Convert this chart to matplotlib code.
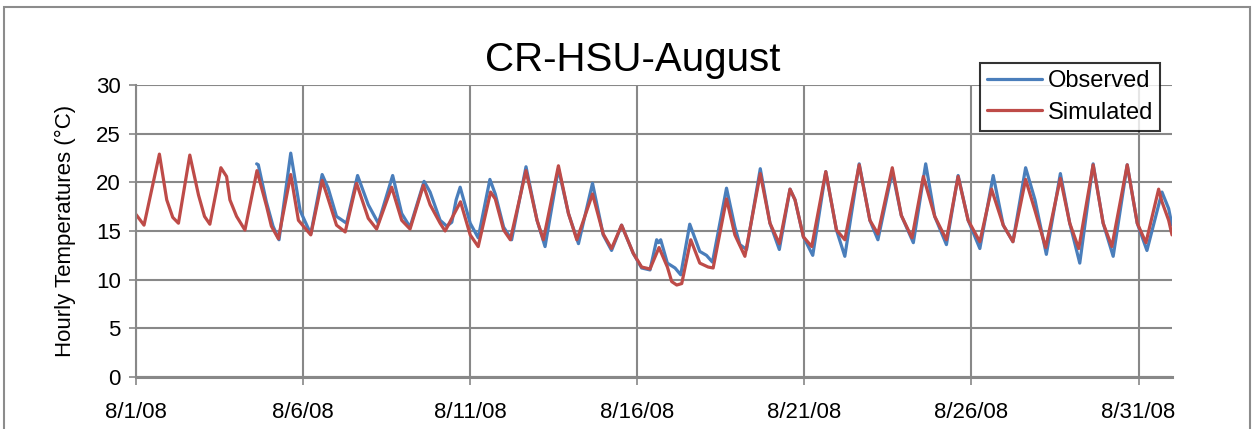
import datetime as dt
import matplotlib
matplotlib.use("Agg")
import matplotlib.pyplot as plt
from matplotlib.patches import Rectangle

plt.rcParams['font.family'] = ['Liberation Sans', 'DejaVu Sans']

start_date = dt.datetime(2008, 8, 1)

# Observed (blue): day offset from 8/1/08 00:00, temperature (°C)
obs_days = [3.61, 3.66, 3.90, 4.10, 4.28, 4.63, 4.91, 5.23, 5.57, 5.75, 6.0, 6.30, 6.63, 6.95, 7.25,
            7.68, 7.95, 8.2, 8.62, 8.8, 9.1, 9.3, 9.45, 9.58, 9.7, 10.0, 10.24, 10.59, 10.75, 11.0,
            11.24, 11.67, 12.0, 12.24, 12.64, 12.94, 13.24, 13.66, 13.98, 14.23, 14.53, 14.88, 15.13,
            15.38, 15.58, 15.64, 15.7, 15.9, 16.13, 16.3, 16.57, 16.87, 17.07, 17.25, 17.67, 17.92,
            18.07, 18.27, 18.68, 18.97, 19.25, 19.57, 19.72, 19.97, 20.25, 20.64, 20.96, 21.21, 21.64,
            21.96, 22.2, 22.63, 22.9, 23.26, 23.63, 23.9, 24.25, 24.6, 24.9, 25.25, 25.65, 25.95,
            26.24, 26.62, 26.9, 27.24, 27.66, 27.94, 28.24, 28.64, 28.94, 29.24, 29.66, 29.96, 30.25,
            30.7, 30.9, 31.0]
obs_vals = [21.9, 21.8, 18.0, 15.5, 14.1, 23.0, 17.1, 14.7, 20.8, 19.4, 16.5, 15.8, 20.7, 17.7, 15.8,
            20.7, 16.8, 15.4, 20.1, 19.0, 16.1, 15.5, 15.9, 18.2, 19.5, 15.8, 14.3, 20.3, 18.8, 15.4,
            14.1, 21.6, 16.1, 13.4, 21.4, 16.8, 13.7, 19.9, 14.6, 13.0, 15.6, 12.7, 11.2,
            11.0, 14.1, 13.8, 14.1, 11.7, 11.2, 10.5, 15.7, 12.9, 12.5, 11.8, 19.4, 15.4,
            13.6, 13.1, 21.4, 15.8, 13.1, 19.3, 18.2, 14.4, 12.5, 21.1, 15.1, 12.4, 21.9,
            16.1, 14.1, 21.1, 16.6, 13.8, 21.9, 16.5, 13.6, 20.7, 16.1, 13.2, 20.7, 15.6,
            13.9, 21.5, 18.2, 12.6, 20.9, 15.8, 11.7, 21.9, 15.8, 12.4, 21.8, 15.8, 13.0,
            19.0, 17.3, 15.6]

# Simulated (red)
sim_days = [0.00, 0.24, 0.70, 0.92, 1.10, 1.27, 1.61, 1.87, 2.05, 2.21, 2.54, 2.71, 2.81, 3.01, 3.26,
            3.62, 3.91, 4.05, 4.26, 4.63, 4.86, 5.23, 5.57, 5.75, 6.0, 6.26, 6.60, 6.95, 7.2, 7.65,
            7.95, 8.2, 8.6, 8.8, 9.1, 9.25, 9.71, 10.0, 10.24, 10.61, 10.75, 11.0, 11.2, 11.67, 12.0,
            12.19, 12.64, 12.94, 13.19, 13.66, 13.98, 14.23, 14.53, 14.88, 15.13, 15.38, 15.65, 15.9,
            16.03, 16.18, 16.33, 16.6, 16.87, 17.12, 17.27, 17.67, 17.92, 18.22, 18.68, 18.97, 19.25,
            19.57, 19.72, 19.97, 20.22, 20.64, 20.96, 21.21, 21.64, 21.96, 22.2, 22.63, 22.9, 23.22,
            23.56, 23.9, 24.25, 24.6, 24.9, 25.25, 25.6, 25.95, 26.24, 26.62, 26.9, 27.22, 27.66,
            27.94, 28.21, 28.64, 28.94, 29.2, 29.66, 29.96, 30.22, 30.6, 30.7, 30.9, 31.0]
sim_vals = [16.7, 15.6, 22.9, 18.2, 16.4, 15.8, 22.8, 18.7, 16.5, 15.7, 21.5, 20.6, 18.2, 16.5, 15.1,
            21.2, 17.5, 15.5, 14.2, 20.8, 16.1, 14.6, 20.2, 18.3, 15.6, 14.9, 19.9, 16.3, 15.2, 19.5,
            16.1, 15.2, 19.7, 17.7, 15.8, 15.0, 18.0, 14.6, 13.4, 19.0, 18.3, 15.1, 14.1, 21.2, 16.1,
            14.1, 21.7, 16.8, 14.1, 18.8, 14.7, 13.2, 15.6, 12.7, 11.3, 11.1, 13.3, 11.3,
            9.8, 9.45, 9.6, 14.1, 11.7, 11.3, 11.2, 18.3, 14.6, 12.4, 20.9, 15.8, 13.7,
            19.3, 18.2, 14.4, 13.4, 21.1, 15.1, 14.1, 21.8, 16.1, 14.7, 21.5, 16.6, 14.3,
            20.6, 16.5, 14.1, 20.6, 16.1, 13.9, 19.3, 15.6, 13.9, 20.3, 17.1, 13.3, 20.4,
            15.8, 13.2, 21.8, 15.8, 13.4, 21.8, 15.8, 13.8, 19.3, 18.0, 16.1, 14.6]

series_labels = ["Observed", "Simulated"]
title_text = "CR-HSU-August"
ylabel_text = "Hourly Temperatures (°C)"
y_ticks = [0, 5, 10, 15, 20, 25, 30]
x_tick_days = [0, 5, 10, 15, 20, 25, 30]

obs_t = [start_date + dt.timedelta(days=d) for d in obs_days]
sim_t = [start_date + dt.timedelta(days=d) for d in sim_days]
tick_t = [start_date + dt.timedelta(days=d) for d in x_tick_days]

W, H = 1254, 429
fig = plt.figure(figsize=(W / 100, H / 100), dpi=100)
fig.patches.append(Rectangle((4 / W, -0.05), (1250 - 4) / W, 1.05 - 7 / H,
                             transform=fig.transFigure, fill=False,
                             edgecolor='#8c8c8c', linewidth=1.5))

ax = fig.add_axes([136 / W, 1 - 377 / H, (1172 - 136) / W, (377 - 85) / H])

grid_c = '#888888'
ax.plot(obs_t, obs_vals, color='#4A7EBB', lw=2.3, label=series_labels[0],
        solid_joinstyle='round', solid_capstyle='round')
ax.plot(sim_t, sim_vals, color='#BE4B48', lw=2.3, label=series_labels[1],
        solid_joinstyle='round', solid_capstyle='round')

ax.set_xlim(start_date, start_date + dt.timedelta(days=31))
ax.set_ylim(0, 30)
ax.set_yticks(y_ticks)
ax.set_xticks(tick_t)
ax.set_xticklabels([f"{t.month}/{t.day}/{t.strftime('%y')}" for t in tick_t])

ax.grid(True, color=grid_c, linewidth=1.5)
ax.set_axisbelow(True)
for s in ['top', 'right']:
    ax.spines[s].set_visible(False)
ax.spines['left'].set_color(grid_c)
ax.spines['left'].set_linewidth(1.5)
ax.spines['bottom'].set_color(grid_c)
ax.spines['bottom'].set_linewidth(2.2)
ax.tick_params(axis='both', colors=grid_c, labelcolor='black', labelsize=16, width=1.2)
ax.tick_params(axis='x', length=6, pad=12)
ax.tick_params(axis='y', length=5, pad=6)

ax.set_ylabel(ylabel_text, fontsize=16, labelpad=14)
fig.text(633 / W, 1 - 60 / H, title_text, fontsize=29, ha='center', va='center')

leg = fig.legend(loc='upper right', bbox_to_anchor=(1160 / W, 1 - 63 / H),
                 fontsize=17, frameon=True, fancybox=False, handlelength=2.3,
                 borderpad=0.3, labelspacing=0.4, handletextpad=0.25, borderaxespad=0)
leg.get_frame().set_edgecolor('black')
leg.get_frame().set_linewidth(1.5)

fig.savefig('out.png', dpi=100)
